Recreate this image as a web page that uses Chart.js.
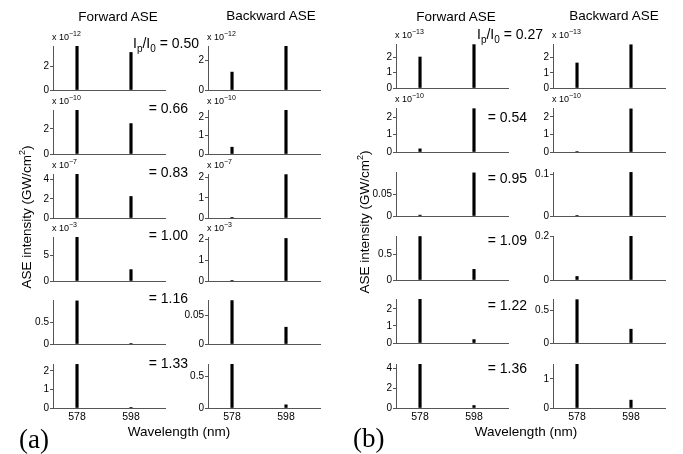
<!DOCTYPE html>
<html>
<head>
<meta charset="utf-8">
<script src="https://cdn.jsdelivr.net/npm/chart.js@4.4.0/dist/chart.umd.min.js"></script>
<style>
  body { margin:0; background:#fff; font-family:"Liberation Sans", Arial, sans-serif; }
  #fig { position:relative; width:683px; height:454px; overflow:hidden; }
  .pan { position:absolute; }
  .txt { position:absolute; white-space:nowrap; color:#000; line-height:1; }
  .exp { font-size:9px; }
  .exp sup { font-size:7px; vertical-align:4px; }
  .ratio { font-size:14px; text-align:right; width:120px; }
  .ratio sub { font-size:10px; vertical-align:-4px; }
  .ttl { font-size:13.5px; transform:translateX(-50%); }
  .ylab { font-size:13.5px; transform:translate(-50%,-50%) rotate(-90deg); }
  .ylab sup { font-size:9px; vertical-align:6px; }
  .tag { font-family:"Liberation Serif", "Times New Roman", serif; font-size:27px; }
</style>
</head>
<body>
<div id="fig"></div>
<script>
// wavelengths (nm) of the two ASE lines
const wavelengths = [578, 598];

// pump ratios Ip/I0
const ratiosA = ['0.50', '0.66', '0.83', '1.00', '1.16', '1.33'];
const ratiosB = ['0.27', '0.54', '0.95', '1.09', '1.22', '1.36'];

// (a) forward ASE
const fwdA578 = [3.75, 3.5, 4.6, 8.5, 0.98, 2.35];
const fwdA598 = [3.2, 2.42, 2.25, 2.2, 0.01, 0.02];
const fwdAMax = [3.75, 3.5, 4.6, 8.5, 1.0, 2.37];
const fwdATicks = [[0, 2], [0, 2], [0, 2, 4], [0, 5], [0, 0.5], [0, 1, 2]];
const fwdAExp = [-12, -10, -7, -3, null, null];

// (a) backward ASE
const bwdA578 = [1.22, 0.37, 0.01, 0.02, 0.075, 0.69];
const bwdA598 = [3.0, 2.4, 2.15, 2.05, 0.029, 0.05];
const bwdAMax = [3.0, 2.4, 2.18, 2.12, 0.076, 0.69];
const bwdATicks = [[0, 2], [0, 1, 2], [0, 1, 2], [0, 1, 2], [0, 0.05], [0, 0.5]];
const bwdAExp = [-12, -10, -7, -3, null, null];

// (b) forward ASE
const fwdB578 = [2.0, 0.18, 0.002, 0.86, 2.55, 4.45];
const fwdB598 = [2.8, 2.48, 0.098, 0.21, 0.2, 0.25];
const fwdBMax = [2.84, 2.52, 0.1, 0.87, 2.57, 4.48];
const fwdBTicks = [[0, 1, 2], [0, 1, 2], [0, 0.05], [0, 0.5], [0, 1, 2], [0, 2, 4]];
const fwdBExp = [-13, -10, null, null, null, null];

// (b) backward ASE
const bwdB578 = [1.65, 0.03, 0.001, 0.016, 0.66, 1.5];
const bwdB598 = [2.85, 2.45, 0.104, 0.2, 0.21, 0.27];
const bwdBMax = [2.9, 2.5, 0.105, 0.2, 0.67, 1.51];
const bwdBTicks = [[0, 1, 2], [0, 1, 2], [0, 0.1], [0, 0.2], [0, 0.5], [0, 1]];
const bwdBExp = [-13, -10, null, null, null, null];

// layout (pixels)
const AXW = 112, AXH = 47, YW = 34, PADT = 4, PADR = 4, XH = 16;
const bottomsA = [90, 154, 218, 281, 344, 408];
const bottomsB = [88, 152, 216, 280, 343, 408];

const fig = document.getElementById('fig');
const axisCol = '#555';
const font = { family: '"Liberation Sans", Arial, sans-serif', size: 10 };

function addText(cls, html, x, y) {
  const d = document.createElement('div');
  d.className = 'txt ' + cls;
  d.innerHTML = html;
  d.style.left = x + 'px';
  d.style.top = y + 'px';
  fig.appendChild(d);
  return d;
}

function panel(left, bottom, v578, v598, max, ticks, exp, isBottom) {
  const top = bottom - AXH;
  const wrap = document.createElement('div');
  wrap.className = 'pan';
  wrap.style.left = (left - YW) + 'px';
  wrap.style.top = (top - PADT) + 'px';
  const cv = document.createElement('canvas');
  cv.width = YW + AXW + PADR;
  cv.height = PADT + AXH + XH;
  wrap.appendChild(cv);
  fig.appendChild(wrap);

  new Chart(cv, {
    type: 'bar',
    data: { datasets: [{ data: [{ x: wavelengths[0], y: v578 }, { x: wavelengths[1], y: v598 }],
      backgroundColor: '#000', barThickness: 2.5 }] },
    options: {
      responsive: false, animation: false,
      layout: { autoPadding: false, padding: { left: 0, right: PADR, top: PADT, bottom: 0 } },
      plugins: { legend: { display: false }, tooltip: { enabled: false } },
      scales: {
        x: {
          type: 'linear', min: 569.1, max: 610.6, offset: false,
          afterFit: s => { s.height = XH; },
          afterBuildTicks: s => { s.ticks = wavelengths.map(v => ({ value: v })); },
          grid: { display: true, drawOnChartArea: false, drawTicks: false, offset: false },
          border: { color: axisCol, width: 1 },
          ticks: { display: isBottom, font: { ...font, size: 10.5 }, color: '#000', padding: 3, autoSkip: false, maxRotation: 0 }
        },
        y: {
          min: 0, max: max,
          afterFit: s => { s.width = YW; },
          afterBuildTicks: s => { s.ticks = ticks.map(v => ({ value: v })); },
          grid: { drawOnChartArea: false, tickLength: 3, color: axisCol },
          border: { color: axisCol, width: 1 },
          ticks: { font: font, color: '#000', padding: 1, callback: v => String(v) }
        }
      }
    }
  });

  if (exp !== null) {
    addText('exp', 'x 10<sup>\u2212' + Math.abs(exp) + '</sup>', left - 1, top - 13);
  }
}

const cols = [
  { left: 53, bottoms: bottomsA, a: fwdA578, b: fwdA598, max: fwdAMax, ticks: fwdATicks, exp: fwdAExp },
  { left: 208, bottoms: bottomsA, a: bwdA578, b: bwdA598, max: bwdAMax, ticks: bwdATicks, exp: bwdAExp },
  { left: 396, bottoms: bottomsB, a: fwdB578, b: fwdB598, max: fwdBMax, ticks: fwdBTicks, exp: fwdBExp },
  { left: 553, bottoms: bottomsB, a: bwdB578, b: bwdB598, max: bwdBMax, ticks: bwdBTicks, exp: bwdBExp }
];

cols.forEach(c => {
  for (let i = 0; i < 6; i++) {
    panel(c.left, c.bottoms[i], c.a[i], c.b[i], c.max[i], c.ticks[i], c.exp[i], i === 5);
  }
});

// Ip/I0 labels
const ratioYA = [43, 108, 172, 235, 298, 363];
const ratioYB = [34, 117, 178, 240, 305, 368];
ratiosA.forEach((r, i) => {
  const txt = (i === 0 ? 'I<sub>p</sub>/I<sub>0</sub> = ' : '= ') + r;
  const right = i === 0 ? 199 : 188;
  addText('ratio', txt, right - 120, ratioYA[i] - 7);
});
ratiosB.forEach((r, i) => {
  const txt = (i === 0 ? 'I<sub>p</sub>/I<sub>0</sub> = ' : '= ') + r;
  const right = i === 0 ? 543 : 527;
  addText('ratio', txt, right - 120, ratioYB[i] - 7);
});

// column titles
addText('ttl', 'Forward ASE', 118, 10);
addText('ttl', 'Backward ASE', 271, 9);
addText('ttl', 'Forward ASE', 456, 10);
addText('ttl', 'Backward ASE', 614, 9);

// axis labels
addText('ylab', 'ASE intensity (GW/cm<sup>2</sup>)', 26, 217);
addText('ylab', 'ASE intensity (GW/cm<sup>2</sup>)', 364, 222);
addText('ttl', 'Wavelength (nm)', 179, 425);
addText('ttl', 'Wavelength (nm)', 526, 425);

// panel tags
addText('tag', '(a)', 19, 426);
addText('tag', '(b)', 353, 425);
</script>
</body>
</html>
